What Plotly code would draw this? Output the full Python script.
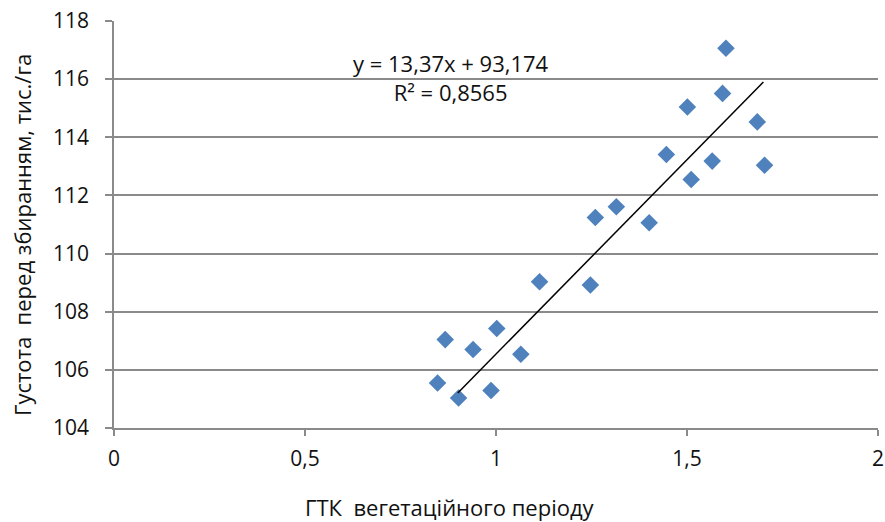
import plotly.graph_objects as go

# Data
gtk = [0.847, 0.867, 0.902, 0.940, 1.002, 0.987, 1.065, 1.114, 1.247, 1.260,
       1.315, 1.401, 1.446, 1.511, 1.501, 1.566, 1.593, 1.602, 1.684, 1.703]
density = [105.55, 107.04, 105.03, 106.70, 107.42, 105.29, 106.54, 109.03, 108.92, 111.24,
           111.61, 111.06, 113.41, 112.55, 115.04, 113.18, 115.51, 117.06, 114.53, 113.04]

slope = 13.37
intercept = 93.174
r_squared = "0,8565"
trend_x = [0.9, 1.7]
trend_y = [slope * v + intercept for v in trend_x]

x_ticks = [0, 0.5, 1, 1.5, 2]
y_ticks = [104, 106, 108, 110, 112, 114, 116, 118]

x_title = "ГТК\u00a0 вегетаційного періоду"
y_title = "Густота\u00a0 перед збиранням, тис./га"

FONT = "Open Sans"
GRID = "#8a8a8a"

fig = go.Figure()
fig.add_trace(go.Scatter(
    x=gtk, y=density, mode="markers",
    marker=dict(symbol="diamond", size=13.5, color="#4F81BD", line=dict(width=0)),
    showlegend=False, hoverinfo="x+y",
))
fig.add_trace(go.Scatter(
    x=trend_x, y=trend_y, mode="lines",
    line=dict(color="black", width=1.5),
    showlegend=False, hoverinfo="skip",
))

fig.add_annotation(
    x=0.883, y=116.07, xref="x", yref="y",
    text="y = 13,37x + 93,174<br>R² = " + r_squared,
    showarrow=False, align="center",
    font=dict(family=FONT, size=22, color="#111"),
)
# axis titles (placed as in the reference)
fig.add_annotation(
    x=-0.1205, y=0.474, xref="paper", yref="paper",
    text=y_title, textangle=-90, showarrow=False,
    xanchor="center", yanchor="middle",
    font=dict(family=FONT, size=22, color="#111"),
)
fig.add_annotation(
    x=0.440, y=-0.1941, xref="paper", yref="paper",
    text=x_title, showarrow=False,
    xanchor="center", yanchor="middle",
    font=dict(family=FONT, size=22, color="#111"),
)

fig.update_layout(
    width=885, height=522,
    margin=dict(l=114, r=7, t=21, b=94),
    paper_bgcolor="white", plot_bgcolor="white",
    separators=", ",
    font=dict(family=FONT, size=21, color="#111"),
    xaxis=dict(
        range=[0, 2], tickvals=x_ticks, showgrid=False, zeroline=False,
        showline=True, linecolor=GRID, linewidth=1.5,
        ticks="outside", ticklen=6, tickcolor=GRID, tickwidth=1.5,
        ticklabelstandoff=5, automargin=False,
        fixedrange=True,
    ),
    yaxis=dict(
        range=[104, 118], tickvals=y_ticks, showgrid=True, gridcolor=GRID, gridwidth=1.5,
        zeroline=False, showline=True, linecolor=GRID, linewidth=1.5,
        ticks="outside", ticklen=7, tickcolor=GRID, tickwidth=1.5,
        ticklabelstandoff=12, automargin=False,
        fixedrange=True,
    ),
)

fig.write_html(
    "out.html",
    config={"displayModeBar": False},
    post_script="document.body.style.margin='0';",
)
